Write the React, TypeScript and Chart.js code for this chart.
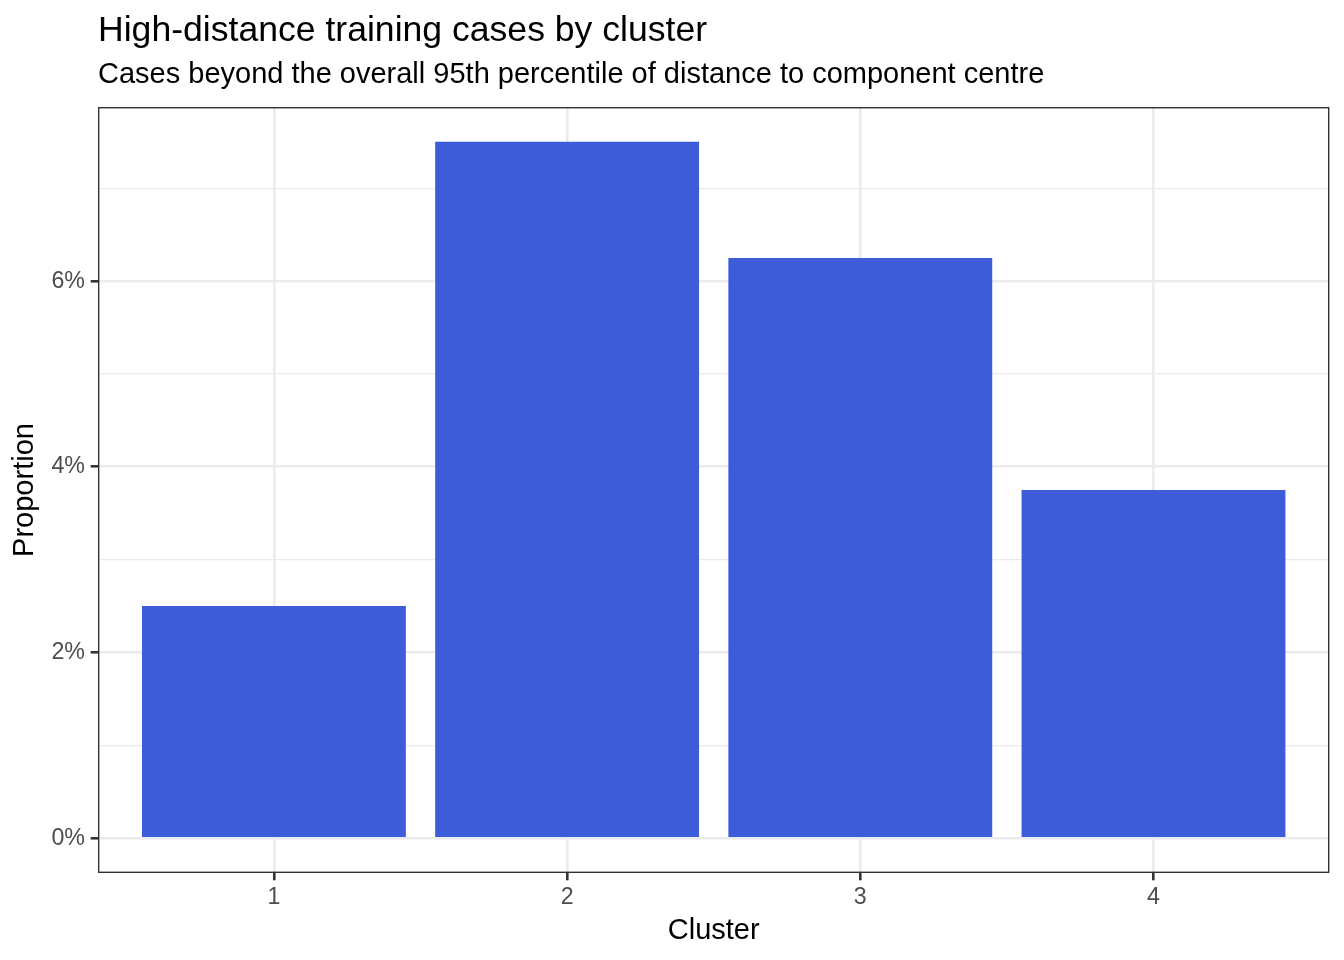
import React, { useEffect, useRef } from "react";
import { Chart, registerables } from "chart.js";

Chart.register(...registerables);

// ---- data ----
const categories: string[] = ["1", "2", "3", "4"];
const proportions: number[] = [2.5, 7.5, 6.25, 3.75]; // percent
const yTickValues: number[] = [0, 1, 2, 3, 4, 5, 6, 7];
const yLabelledTicks: number[] = [0, 2, 4, 6];
const titleText = "High-distance training cases by cluster";
const subtitleText =
  "Cases beyond the overall 95th percentile of distance to component centre";
const xTitleText = "Cluster";
const yTitleText = "Proportion";

const FONT = "'Liberation Sans', Arial, Helvetica, sans-serif";
const BAR_COLOR = "#3C5CD9";
const GRID = "#EBEBEB";
const DARK = "#333333";
const TICK_TEXT = "#4D4D4D";

const panelBorder = {
  id: "panelBorder",
  afterDatasetsDraw(chart: any) {
    const { ctx, chartArea: a } = chart;
    const lw = 1.4;
    ctx.save();
    ctx.strokeStyle = DARK;
    ctx.lineWidth = lw;
    ctx.strokeRect(
      a.left + lw / 2,
      a.top + lw / 2,
      a.right - a.left - lw,
      a.bottom - a.top - lw
    );
    ctx.restore();
  },
};

export default function App() {
  const ref = useRef<HTMLCanvasElement | null>(null);

  useEffect(() => {
    if (!ref.current) return;
    Chart.defaults.font.family = FONT;
    const chart = new Chart(ref.current, {
      type: "bar",
      data: {
        datasets: [
          {
            data: categories.map((c, i) => ({ x: i + 1, y: proportions[i] })),
            backgroundColor: BAR_COLOR,
            borderWidth: 0,
            categoryPercentage: 1,
            barPercentage: 0.9,
          },
        ],
      },
      options: {
        animation: false,
        responsive: false,
        devicePixelRatio: 1,
        layout: { padding: { left: 0, right: 14.6, top: 0, bottom: 0 } },
        plugins: {
          legend: { display: false },
          tooltip: { enabled: false },
          title: {
            display: true,
            text: titleText,
            align: "start",
            fullSize: false,
            color: "#000000",
            font: { family: FONT, size: 35.6, weight: "normal", lineHeight: 1.2 },
            padding: { top: 10, bottom: 0 },
          },
          subtitle: {
            display: true,
            text: subtitleText,
            align: "start",
            fullSize: false,
            color: "#000000",
            font: { family: FONT, size: 29, weight: "normal", lineHeight: 1.2 },
            padding: { top: 4.9, bottom: 14.6 },
          },
        },
        scales: {
          x: {
            type: "linear",
            min: 0.4,
            max: 4.6,
            offset: false,
            afterBuildTicks: (scale: any) => {
              scale.ticks = categories.map((c, i) => ({ value: i + 1 }));
            },
            afterFit: (scale: any) => {
              scale.height = 87;
            },
            border: { display: false },
            grid: {
              offset: false,
              color: GRID,
              lineWidth: 2.6,
              drawTicks: true,
              tickLength: 7.3,
              tickColor: DARK,
              tickWidth: 2.6,
            },
            ticks: {
              autoSkip: false,
              maxRotation: 0,
              padding: 3.8,
              color: TICK_TEXT,
              font: { family: FONT, size: 23.2 },
              callback: (value: any) => categories[Number(value) - 1] ?? "",
            },
            title: {
              display: true,
              text: xTitleText,
              color: "#000000",
              font: { family: FONT, size: 29, lineHeight: 1.2 },
              padding: { top: 0, bottom: 11.6 },
            },
          },
          y: {
            type: "linear",
            min: -0.375,
            max: 7.875,
            afterBuildTicks: (scale: any) => {
              scale.ticks = yTickValues.map((v) => ({ value: v }));
            },
            afterFit: (scale: any) => {
              scale.width = 98;
            },
            border: { display: false },
            grid: {
              color: GRID,
              lineWidth: (ctx: any) =>
                yLabelledTicks.includes(ctx.tick?.value) ? 2.6 : 1.3,
              drawTicks: true,
              tickLength: 7.3,
              tickColor: (ctx: any) =>
                yLabelledTicks.includes(ctx.tick?.value) ? DARK : "rgba(0,0,0,0)",
              tickWidth: 2.6,
            },
            ticks: {
              autoSkip: false,
              padding: 5.8,
              color: TICK_TEXT,
              font: { family: FONT, size: 23.2 },
              callback: (value: any) =>
                yLabelledTicks.includes(Number(value)) ? `${value}%` : "",
            },
            title: {
              display: true,
              text: yTitleText,
              color: "#000000",
              font: { family: FONT, size: 29, lineHeight: 1.2 },
              padding: { top: 7.5, bottom: 0 },
            },
          },
        },
      },
      plugins: [panelBorder],
    });
    return () => chart.destroy();
  }, []);

  return (
    <div
      style={{
        position: "fixed",
        left: 0,
        top: 0,
        width: 1344,
        height: 960,
        background: "#ffffff",
      }}
    >
      <canvas ref={ref} width={1344} height={960} style={{ display: "block" }} />
    </div>
  );
}
